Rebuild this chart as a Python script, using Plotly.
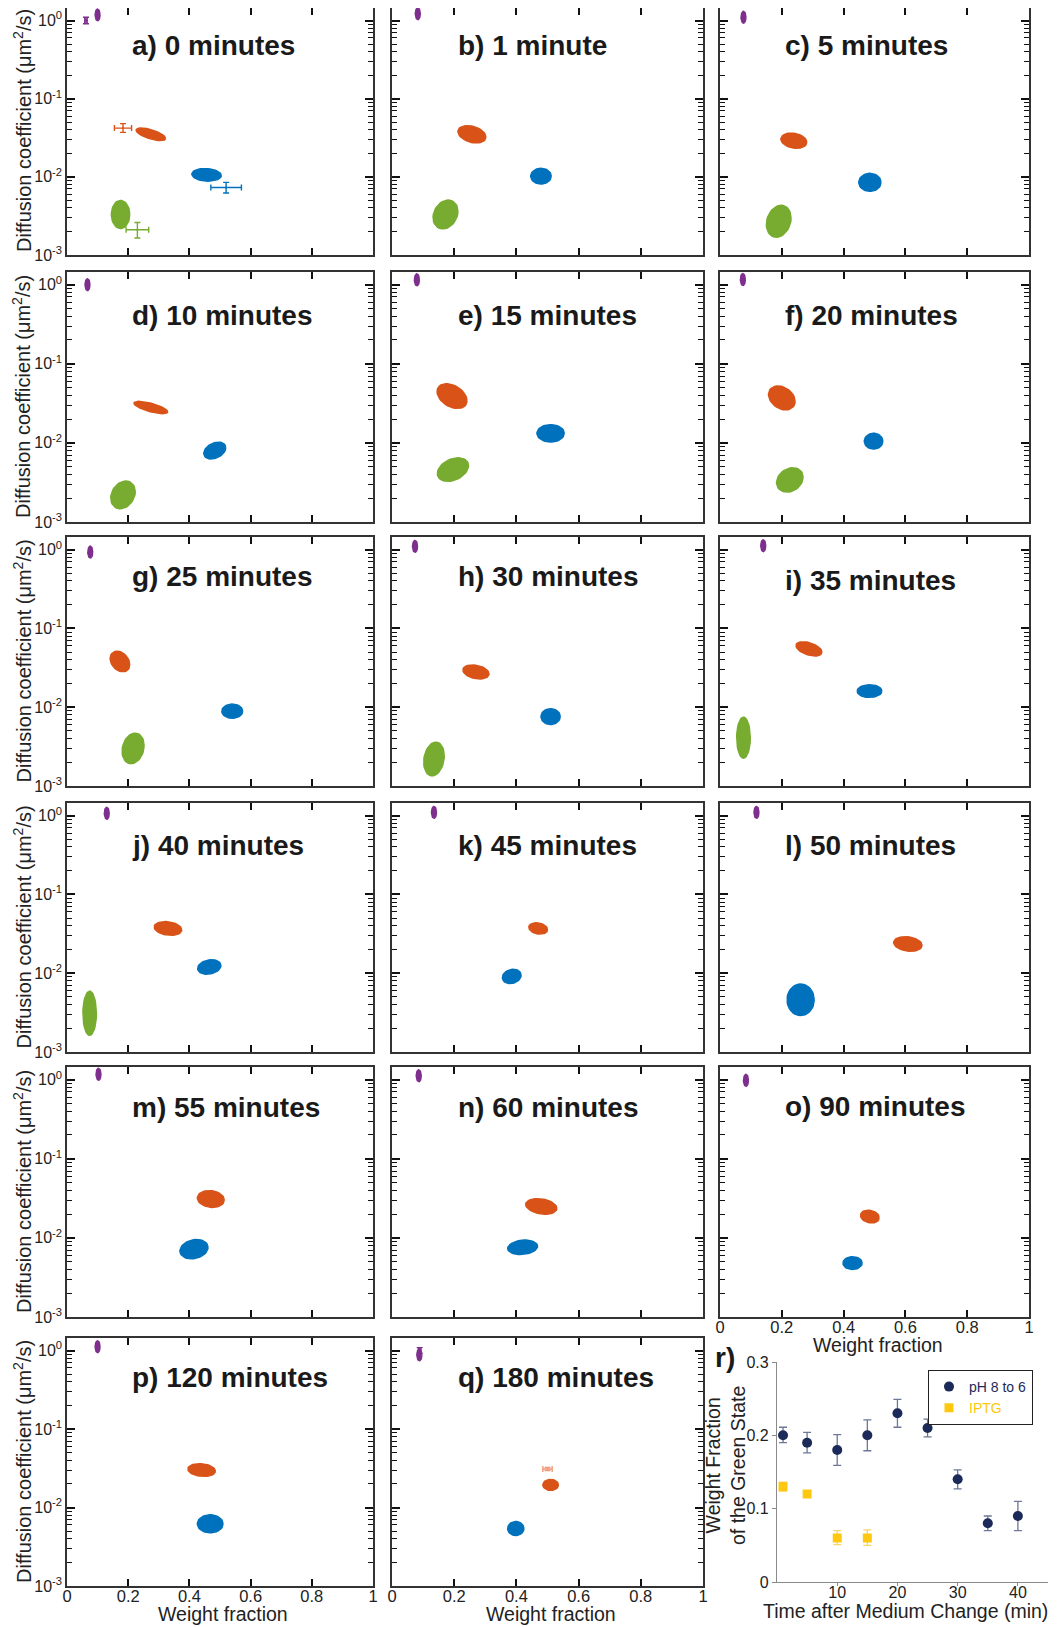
import numpy as np
import plotly.graph_objects as go

# ---------------- data ----------------
TITLES = ["a) 0 minutes", "b) 1 minute", "c) 5 minutes", "d) 10 minutes", "e) 15 minutes",
          "f) 20 minutes", "g) 25 minutes", "h) 30 minutes", "i) 35 minutes", "j) 40 minutes",
          "k) 45 minutes", "l) 50 minutes", "m) 55 minutes", "n) 60 minutes", "o) 90 minutes",
          "p) 120 minutes", "q) 180 minutes"]

# cluster centres: weight fraction and diffusion coefficient (um^2/s)
PURPLE_X = [0.100, 0.083, 0.076, 0.067, 0.080, 0.074, 0.076, 0.074, 0.140, 0.130, 0.135, 0.118, 0.103, 0.086, 0.084, 0.100, 0.088]
PURPLE_D = [1.18, 1.22, 1.10, 1.00, 1.15, 1.16, 0.93, 1.10, 1.12, 1.07, 1.10, 1.10, 1.17, 1.12, 0.98, 1.12, 0.88]
ORANGE_X = [0.274, 0.257, 0.239, 0.274, 0.193, 0.200, 0.173, 0.270, 0.288, 0.330, 0.470, 0.608, 0.470, 0.480, 0.485, 0.440, 0.510]
ORANGE_D = [0.035, 0.035, 0.029, 0.028, 0.039, 0.037, 0.038, 0.028, 0.055, 0.037, 0.037, 0.0235, 0.031, 0.025, 0.0186, 0.030, 0.0194]
BLUE_X = [0.456, 0.479, 0.485, 0.483, 0.510, 0.497, 0.540, 0.510, 0.484, 0.465, 0.385, 0.261, 0.415, 0.420, 0.429, 0.468, 0.398]
BLUE_D = [0.0106, 0.0102, 0.0085, 0.0080, 0.0132, 0.0105, 0.0089, 0.0076, 0.016, 0.012, 0.0091, 0.0046, 0.0072, 0.0076, 0.0048, 0.0062, 0.0054]
GREEN_X = [0.175, 0.172, 0.190, 0.183, 0.196, 0.226, 0.216, 0.135, 0.076, 0.074]
GREEN_D = [0.0033, 0.0033, 0.0027, 0.0022, 0.0046, 0.0034, 0.0030, 0.0022, 0.0041, 0.0031]

# cluster spreads: half-width (weight fraction), half-height (decades), tilt (decades per unit)
PURPLE_SX = 0.008
PURPLE_SY = 0.075
ORANGE_SX = [0.048, 0.045, 0.042, 0.055, 0.048, 0.043, 0.032, 0.042, 0.042, 0.045, 0.030, 0.046, 0.044, 0.050, 0.030, 0.045, 0.025]
ORANGE_SY = [0.060, 0.105, 0.095, 0.055, 0.145, 0.145, 0.125, 0.085, 0.080, 0.085, 0.070, 0.090, 0.105, 0.095, 0.080, 0.080, 0.070]
ORANGE_TILT = [-1.1, -0.8, -0.5, -1.0, -1.2, -1.0, -1.2, -0.6, -1.0, -0.4, -0.5, -0.4, -0.3, -0.5, -0.5, -0.3, 0.0]
BLUE_SX = [0.048, 0.033, 0.036, 0.036, 0.044, 0.030, 0.034, 0.031, 0.040, 0.038, 0.030, 0.044, 0.046, 0.048, 0.031, 0.042, 0.026]
BLUE_SY = [0.080, 0.100, 0.115, 0.100, 0.110, 0.100, 0.090, 0.100, 0.080, 0.090, 0.090, 0.200, 0.120, 0.090, 0.080, 0.115, 0.090]
BLUE_TILT = [-0.2, 0.0, 0.0, 1.0, 0.0, 0.0, 0.0, 0.0, 0.0, 0.5, 0.5, 0.0, 0.5, 0.3, 0.0, 0.0, 0.0]
GREEN_SX = [0.030, 0.040, 0.040, 0.040, 0.050, 0.043, 0.036, 0.033, 0.022, 0.022]
GREEN_SY = [0.180, 0.180, 0.200, 0.170, 0.140, 0.150, 0.190, 0.210, 0.260, 0.280]
GREEN_TILT = [0.0, 1.0, 1.0, 1.0, 1.0, 0.8, 1.0, 1.2, 0.0, 0.0]

# reference error-bar points (panel a and q)
REF_PANEL = [0, 0, 0, 0, 16, 16]
REF_COLOR = ["purple", "orange", "blue", "green", "purple", "orange_light"]
REF_X = [0.062, 0.183, 0.520, 0.230, 0.089, 0.500]
REF_XERR = [0.004, 0.028, 0.050, 0.037, 0.004, 0.015]
REF_D = [1.00, 0.042, 0.0073, 0.0021, 1.00, 0.031]
REF_D_LO = [0.91, 0.037, 0.0062, 0.00165, 0.92, 0.0296]
REF_D_HI = [1.10, 0.048, 0.0085, 0.0026, 1.09, 0.0325]

# panel r
T_PH = [1, 5, 10, 15, 20, 25, 30, 35, 40]
WF_PH = [0.200, 0.190, 0.180, 0.200, 0.230, 0.210, 0.140, 0.080, 0.090]
WF_PH_LO = [0.190, 0.176, 0.159, 0.179, 0.211, 0.198, 0.127, 0.070, 0.070]
WF_PH_HI = [0.211, 0.204, 0.201, 0.221, 0.249, 0.222, 0.153, 0.090, 0.110]
T_IPTG = [1, 5, 10, 15]
WF_IPTG = [0.130, 0.120, 0.060, 0.060]
WF_IPTG_LO = [0.124, 0.116, 0.051, 0.050]
WF_IPTG_HI = [0.136, 0.124, 0.070, 0.071]

X_TICKS = [0, 0.2, 0.4, 0.6, 0.8, 1]
X_TICKTEXT = ["0", "0.2", "0.4", "0.6", "0.8", "1"]
Y_TICKS = [0.001, 0.01, 0.1, 1]
Y_TICKTEXT = ["10<sup>-3</sup>", "10<sup>-2</sup>", "10<sup>-1</sup>", "10<sup>0</sup>"]

# ---------------- style / layout ----------------
OFF = 8                      # browser body margin
W, H = 1057 - OFF, 1627 - OFF


def fx(px):
    return min(1.0, max(0.0, (px - OFF) / W))


def fy(py):
    return min(1.0, max(0.0, 1 - (py - OFF) / H))


COLORS = {"purple": "#7E2F8E", "orange": "#D95319", "blue": "#0072BD", "green": "#77AC30",
          "orange_light": "#EE9A7C"}
NAVY = "#1C2A5A"
YELLOW = "#FDC80F"
FONT = "Liberation Sans, Arial, sans-serif"

COLS = [(67, 373), (392, 703), (720, 1029)]
ROWS = [(7, 255), (272, 522), (537, 786), (803, 1052), (1067, 1317), (1338, 1586)]
TITLE_DY = [38, 38, 38, 43, 43, 43, 39, 39, 43, 43, 43, 43, 40, 40, 39, 39, 39]

minor_vals = [k * 10.0 ** e for e in (-3, -2, -1) for k in range(2, 10)]

fig = go.Figure()
annotations = []


def outline(cx, cd, sx, sy, tilt, n=48):
    t = np.linspace(0, 2 * np.pi, n)
    xs = cx + sx * np.cos(t)
    ly = np.log10(cd) + sy * np.sin(t) + tilt * sx * np.cos(t)
    return xs, 10 ** ly


for i, title in enumerate(TITLES):
    r, c = divmod(i, 3)
    k = i + 1
    xa = "x" if k == 1 else f"x{k}"
    ya = "y" if k == 1 else f"y{k}"
    px0, px1 = COLS[c]
    py0, py1 = ROWS[r]
    show_xlab = i in (14, 15, 16)
    show_ylab = c == 0
    fig.layout[f"xaxis{k}"] = dict(
        domain=[fx(px0), fx(px1)], anchor=ya, range=[0, 1], showgrid=False, zeroline=False,
        showline=True, linecolor="#333", linewidth=1.5, mirror="ticks", automargin=False,
        ticks="inside", ticklen=7, tickwidth=2, tickcolor="#111", ticklabelstandoff=-6,
        tickvals=X_TICKS, ticktext=X_TICKTEXT, showticklabels=show_xlab,
        tickfont=dict(family=FONT, size=16.5, color="#222"))
    fig.layout[f"yaxis{k}"] = dict(
        domain=[fy(py1), fy(py0)], anchor=xa, type="log", range=[-3, 0.16],
        showgrid=False, zeroline=False, showline=True, linecolor="#333", linewidth=1.5,
        mirror="ticks", ticks="inside", ticklen=8, tickwidth=2, tickcolor="#111", automargin=False,
        tickvals=Y_TICKS, ticktext=Y_TICKTEXT, showticklabels=show_ylab,
        tickfont=dict(family=FONT, size=16, color="#222"),
        minor=dict(ticks="inside", ticklen=5, tickwidth=1, tickcolor="#111", tickvals=minor_vals))

    clusters = [("purple", PURPLE_X[i], PURPLE_D[i], PURPLE_SX, PURPLE_SY, 0.0),
                ("orange", ORANGE_X[i], ORANGE_D[i], ORANGE_SX[i], ORANGE_SY[i], ORANGE_TILT[i]),
                ("blue", BLUE_X[i], BLUE_D[i], BLUE_SX[i], BLUE_SY[i], BLUE_TILT[i])]
    if i < len(GREEN_X):
        clusters.append(("green", GREEN_X[i], GREEN_D[i], GREEN_SX[i], GREEN_SY[i], GREEN_TILT[i]))
    for col, cx, cd, sx, sy, tilt in clusters:
        xs, ys = outline(cx, cd, sx, sy, tilt)
        fig.add_trace(go.Scatter(x=xs, y=ys, mode="lines", fill="toself", fillcolor=COLORS[col],
                                 line=dict(color=COLORS[col], width=1.5), xaxis=xa, yaxis=ya,
                                 showlegend=False, hoverinfo="skip"))

    for j, p in enumerate(REF_PANEL):
        if p != i:
            continue
        fig.add_trace(go.Scatter(
            x=[REF_X[j]], y=[REF_D[j]], mode="markers", xaxis=xa, yaxis=ya, showlegend=False,
            marker=dict(size=2, color=COLORS[REF_COLOR[j]]),
            error_x=dict(type="data", array=[REF_XERR[j]], color=COLORS[REF_COLOR[j]], thickness=1.4, width=3),
            error_y=dict(type="data", symmetric=False, array=[REF_D_HI[j] - REF_D[j]],
                         arrayminus=[REF_D[j] - REF_D_LO[j]], color=COLORS[REF_COLOR[j]], thickness=1.4, width=3)))

    annotations.append(dict(text=f"<b>{title}</b>", xref=f"{xa} domain", yref=f"{ya} domain",
                            x=0.205, y=1 - TITLE_DY[i] / (py1 - py0), xanchor="left", yanchor="middle",
                            showarrow=False, font=dict(family=FONT, size=28, color="#1a1a1a")))
    if show_ylab:
        annotations.append(dict(text="Diffusion coefficient (μm<sup>2</sup>/s)", xref="paper", yref="paper",
                                x=fx(22), y=fy((py0 + py1) / 2), textangle=-90, showarrow=False,
                                xanchor="center", yanchor="middle",
                                font=dict(family=FONT, size=20, color="#222")))
    if show_xlab:
        annotations.append(dict(text="Weight fraction", xref=f"{xa} domain", yref="paper",
                                x=0.51, y=fy(py1 + 28), showarrow=False,
                                xanchor="center", yanchor="middle",
                                font=dict(family=FONT, size=19.5, color="#222")))

# ---------------- panel r ----------------
fig.layout["xaxis18"] = dict(domain=[fx(777), fx(1048)], anchor="y18", range=[0, 45], automargin=False,
                             showgrid=False, zeroline=False, showline=True, linecolor="#8a8a8a",
                             linewidth=1.2, ticks="outside", ticklen=3, tickcolor="#8a8a8a",
                             ticklabelstandoff=-7,
                             tickvals=[10, 20, 30, 40], ticktext=["10", "20", "30", "40"],
                             tickfont=dict(family=FONT, size=16, color="#222"))
fig.layout["yaxis18"] = dict(domain=[fy(1582), fy(1362)], anchor="x18", range=[0, 0.3], automargin=False,
                             showgrid=False, zeroline=False, showline=True, linecolor="#8a8a8a",
                             linewidth=1.2, ticks="outside", ticklen=4, tickcolor="#8a8a8a",
                             tickvals=[0, 0.1, 0.2, 0.3], ticktext=["0", "0.1", "0.2", "0.3"],
                             tickfont=dict(family=FONT, size=16, color="#222"))

fig.add_trace(go.Scatter(
    x=T_PH, y=WF_PH, mode="markers", xaxis="x18", yaxis="y18",
    name=f"<span style='color:{NAVY}'>pH 8 to 6</span>",
    marker=dict(symbol="circle", size=10, color=NAVY),
    error_y=dict(type="data", symmetric=False,
                 array=[h - v for h, v in zip(WF_PH_HI, WF_PH)],
                 arrayminus=[v - l for v, l in zip(WF_PH, WF_PH_LO)],
                 color="#6D7797", thickness=1.3, width=4)))
fig.add_trace(go.Scatter(
    x=T_IPTG, y=WF_IPTG, mode="markers", xaxis="x18", yaxis="y18",
    name=f"<span style='color:{YELLOW}'>IPTG</span>",
    marker=dict(symbol="square", size=9, color=YELLOW),
    error_y=dict(type="data", symmetric=False,
                 array=[h - v for h, v in zip(WF_IPTG_HI, WF_IPTG)],
                 arrayminus=[v - l for v, l in zip(WF_IPTG, WF_IPTG_LO)],
                 color="#F7D66A", thickness=1.3, width=4)))

annotations.append(dict(text="<b>r)</b>", xref="paper", yref="paper", x=fx(725), y=fy(1357),
                        showarrow=False, xanchor="center", yanchor="middle",
                        font=dict(family=FONT, size=28, color="#1a1a1a")))
annotations.append(dict(text="Weight Fraction<br>of the Green State", xref="paper", yref="paper",
                        x=fx(725), y=fy(1466), textangle=-90, showarrow=False,
                        xanchor="center", yanchor="middle",
                        font=dict(family=FONT, size=19.5, color="#222")))
annotations.append(dict(text="Time after Medium Change (min)", xref="paper", yref="paper",
                        x=fx(905), y=fy(1611), showarrow=False, xanchor="center", yanchor="middle",
                        font=dict(family=FONT, size=19.5, color="#222")))

fig.update_layout(
    width=W, height=H, margin=dict(l=0, r=0, t=0, b=0, autoexpand=False),
    paper_bgcolor="white", plot_bgcolor="white",
    annotations=annotations, showlegend=True,
    legend=dict(x=fx(928), y=fy(1370), xanchor="left", yanchor="top",
                bordercolor="#222", borderwidth=1, bgcolor="white",
                font=dict(family=FONT, size=14), itemwidth=30, tracegroupgap=0),
)

fig.write_html("out.html")
